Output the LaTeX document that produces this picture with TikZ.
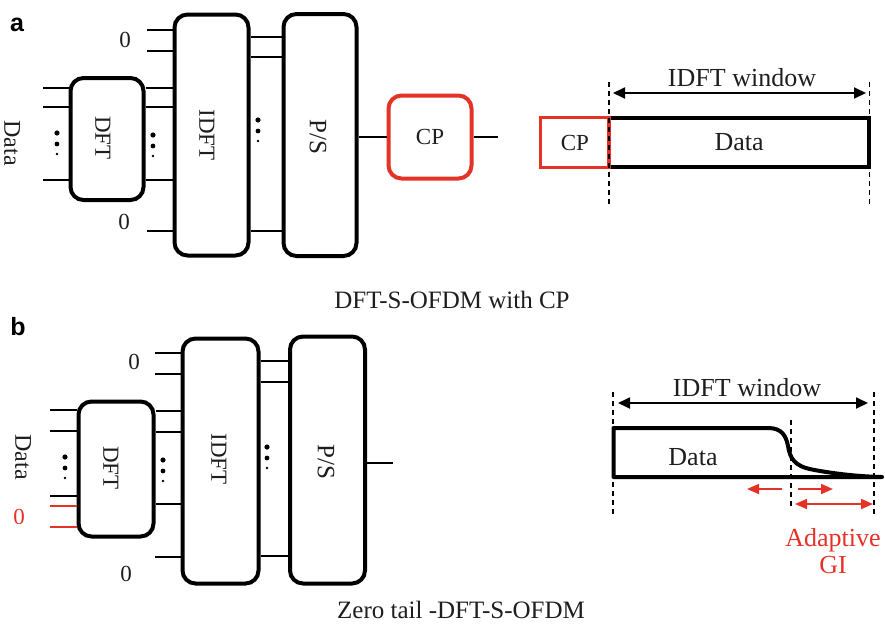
\documentclass[tikz,border=0pt]{standalone}
\usepackage{fontspec}
\setmainfont{Liberation Serif}
\newfontfamily\panelfont{Liberation Sans}
\usetikzlibrary{arrows.meta}
\definecolor{cpred}{RGB}{228,50,38}
\definecolor{ink}{RGB}{30,30,30}

\begin{document}
\begin{tikzpicture}[x=1pt,y=-1pt,
  blockbox/.style={draw=black, line width=4pt, rounded corners=13pt, inner sep=0pt},
  framebox/.style={draw=black, line width=4pt, inner sep=0pt},
  wire/.style={line width=1.6pt},
  lbl/.style={font=\fontsize{23}{25}\selectfont, text=ink, inner sep=0pt},
  vlbl/.style={lbl, rotate=-90},
  biglbl/.style={font=\fontsize{26}{29}\selectfont, text=ink, inner sep=0pt},
  caption/.style={font=\fontsize{25}{28}\selectfont, text=ink, inner sep=0pt},
  panel/.style={font=\panelfont\bfseries\fontsize{25}{27}\selectfont, inner sep=0pt},
  guide/.style={line width=1.4pt, dash pattern=on 5pt off 4pt},
  span/.style={line width=1.8pt, {Triangle[length=12pt,width=11pt]}-{Triangle[length=12pt,width=11pt]}},
  redspan/.style={draw=cpred, line width=1.8pt},
  redtip/.style={-{Triangle[length=12pt,width=10pt]}},
  dotcol/.pic={
    \fill (0,0) circle (2.6pt);
    \fill (0,11) circle (2.4pt);
    \fill (0,21) circle (1.3pt);
  }
]
\useasboundingbox (0,0) rectangle (885,624);

% ---------------- panel a: transmitter chain ----------------
\node[panel] (tagA) at (17,25) {a};

\node[blockbox, minimum width=73pt, minimum height=122pt] (dfta) at (107,139) {};
\node[blockbox, minimum width=74pt, minimum height=241pt] (idfta) at (211.5,135) {};
\node[blockbox, minimum width=73pt, minimum height=242pt] (psa) at (320,135) {};
\node[blockbox, draw=cpred, minimum width=83pt, minimum height=83pt] (cpa) at (430,137) {};

\node[vlbl] (dftaT) at (103,138) {DFT};
\node[vlbl] (idftaT) at (207,135) {IDFT};
\node[vlbl, font=\fontsize{25}{27}\selectfont] (psaT) at (318,137) {P/S};
\node[lbl] (cpaT) at (430,137) {CP};
\node[vlbl, font=\fontsize{24}{26}\selectfont] (dataA) at (12,143) {Data};
\node[lbl] (zaTop) at (125,40) {0};
\node[lbl] (zaBot) at (124,222) {0};

% data inputs and DFT outputs
\foreach \i/\y in {1/88,2/107,3/180}{
  \coordinate (ina\i) at (43,\y);
  \draw[wire] (ina\i) -- (dfta.west |- ina\i);
  \draw[wire] (dfta.east |- ina\i) -- (idfta.west |- ina\i);
}
% zero-padded IDFT inputs
\foreach \i/\y in {1/30,2/51,3/231}{
  \coordinate (za\i) at (147,\y);
  \draw[wire] (za\i) -- (idfta.west |- za\i);
}
% IDFT outputs into P/S
\foreach \i/\y in {1/37,2/57,3/231}{
  \coordinate (oa\i) at (250,\y);
  \draw[wire] (idfta.east |- oa\i) -- (psa.west |- oa\i);
}
\draw[wire] (psa.east |- cpa.west) -- (cpa.west);
\coordinate (outa) at (498,137);
\draw[wire] (cpa.east) -- (outa);

\pic at (57,133) {dotcol};
\pic at (153,135) {dotcol};
\pic at (258,120) {dotcol};

% ---------------- panel a: symbol with cyclic prefix ----------------
\node[framebox, minimum width=260.3pt, minimum height=49.6pt, biglbl] (dataFrame) at (739.2,142.5) {Data};
\node[framebox, draw=cpred, line width=3.4pt, minimum width=68.3pt, minimum height=49.6pt, lbl] (cpFrame) at (574.85,142.5) {CP};

\coordinate (gaLt) at (609,82);  \coordinate (gaLb) at (609,205);
\coordinate (gaRt) at (869.5,82); \coordinate (gaRb) at (869.5,205);
\draw[guide] (gaLt) -- (gaLb);
\draw[guide] (gaRt) -- (gaRb);
\coordinate (wa1) at (613,93); \coordinate (wa2) at (866,93);
\draw[span] (wa1) -- (wa2);
\node[biglbl] (winA) at (742,78) {IDFT window};

\node[caption] (capA) at (452,300) {DFT-S-OFDM with CP};

% ---------------- panel b: transmitter chain ----------------
\node[panel] (tagB) at (18,327) {b};

\node[blockbox, minimum width=75pt, minimum height=135pt] (dftb) at (116,469) {};
\node[blockbox, minimum width=76pt, minimum height=245pt] (idftb) at (220.5,461) {};
\node[blockbox, minimum width=75pt, minimum height=247pt] (psb) at (327.5,460) {};

\node[vlbl] (dftbT) at (111,468) {DFT};
\node[vlbl] (idftbT) at (219,459) {IDFT};
\node[vlbl, font=\fontsize{25}{27}\selectfont] (psbT) at (326,462) {P/S};
\node[vlbl, font=\fontsize{24}{26}\selectfont] (dataB) at (23,457) {Data};
\node[lbl, text=cpred] (zbRed) at (19,517) {0};
\node[lbl] (zbTop) at (134,362) {0};
\node[lbl] (zbBot) at (126,574) {0};

\foreach \i/\y in {1/410,2/431,3/496}{
  \coordinate (inb\i) at (50,\y);
  \draw[wire] (inb\i) -- (dftb.west |- inb\i);
}
\foreach \i/\y in {4/506,5/527}{
  \coordinate (inb\i) at (50,\y);
  \draw[wire, draw=cpred] (inb\i) -- (dftb.west |- inb\i);
}
\foreach \i/\y in {1/411,2/432,3/504}{
  \coordinate (mb\i) at (160,\y);
  \draw[wire] (dftb.east |- mb\i) -- (idftb.west |- mb\i);
}
\foreach \i/\y in {1/353,2/374,3/557}{
  \coordinate (zb\i) at (155,\y);
  \draw[wire] (zb\i) -- (idftb.west |- zb\i);
}
\foreach \i/\y in {1/361,2/382,3/556}{
  \coordinate (ob\i) at (270,\y);
  \draw[wire] (idftb.east |- ob\i) -- (psb.west |- ob\i);
}
\coordinate (outb) at (393,463);
\draw[wire] (psb.east |- outb) -- (outb);

\pic at (65,457) {dotcol};
\pic at (163,460) {dotcol};
\pic at (267,447) {dotcol};

% ---------------- panel b: zero-tail symbol ----------------
\coordinate (gbLt) at (613,392); \coordinate (gbLb) at (613,515);
\coordinate (gbRt) at (874,392); \coordinate (gbRb) at (874,515);
\coordinate (gbMt) at (791,420); \coordinate (gbMb) at (791,507);
\draw[guide] (gbLt) -- (gbLb);
\draw[guide] (gbRt) -- (gbRb);
\draw[guide] (gbMt) -- (gbMb);

\coordinate (wb1) at (618,403); \coordinate (wb2) at (868,403);
\draw[span] (wb1) -- (wb2);
\node[biglbl] (winB) at (747,388) {IDFT window};

\draw[line width=4pt, line join=round, line cap=round]
  (882,477) -- (613.5,477) -- (613.5,428) -- (768,428)
  .. controls (782,428) and (786,436) .. (788,446)
  .. controls (790,458) and (794,466) .. (812,469.5)
  .. controls (835,474) and (860,476.5) .. (882,477);
\node[biglbl] (dataZT) at (693,457) {Data};

\coordinate (ra1) at (782,489); \coordinate (ra2) at (747,489);
\coordinate (ra3) at (798,489); \coordinate (ra4) at (833,489);
\coordinate (ra5) at (795,504); \coordinate (ra6) at (873,504);
\draw[redspan, redtip] (ra1) -- (ra2);
\draw[redspan, redtip] (ra3) -- (ra4);
\draw[redspan, {Triangle[length=12pt,width=10pt]}-{Triangle[length=12pt,width=10pt]}] (ra5) -- (ra6);

\node[biglbl, text=cpred] (adapt) at (833,540) {Adaptive};
\node[biglbl, text=cpred] (gi) at (833,565) {GI};

\node[caption] (capB) at (461,610) {Zero tail -DFT-S-OFDM};
\end{tikzpicture}
\end{document}
